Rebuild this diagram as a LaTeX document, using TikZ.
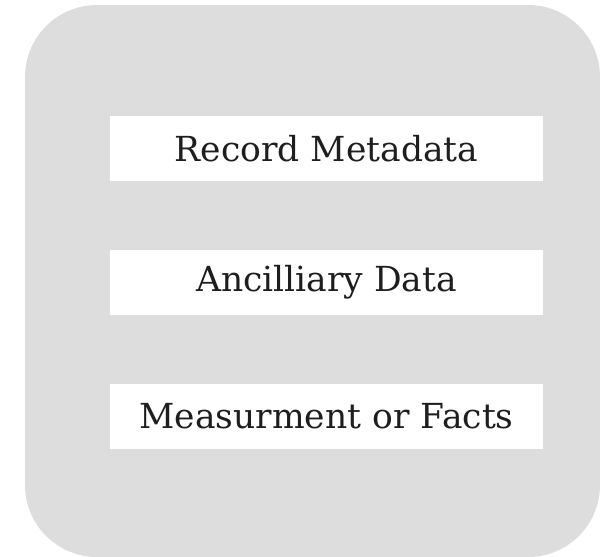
\documentclass[tikz,border=0pt]{standalone}
\usepackage{fontspec}
\setmainfont{DejaVu Serif}
\definecolor{panelgray}{HTML}{DDDDDD}
\definecolor{inkgray}{HTML}{1E1E1E}
\begin{document}
\begin{tikzpicture}[x=1pt, y=-1pt,
    panel/.style={fill=panelgray, rounded corners=72pt, minimum width=575pt, minimum height=552pt, inner sep=0pt},
    layer/.style={fill=white, minimum width=433pt, minimum height=65pt, inner sep=0pt, text=inkgray, font=\fontsize{34.5}{40}\selectfont}]
    \useasboundingbox (0,0) rectangle (600,557);

    % Fundo cinzento
    \node[panel] (record) at (312.5,281) {};

    % Camadas do registo
    \node[layer] (meta) at (326.5,148.5) {Record Metadata};
    \node[layer] (anc) at (326.5,282) {Ancilliary Data};
    \node[layer] (facts) at (326.5,416.5) {Measurment or Facts};
\end{tikzpicture}
\end{document}
